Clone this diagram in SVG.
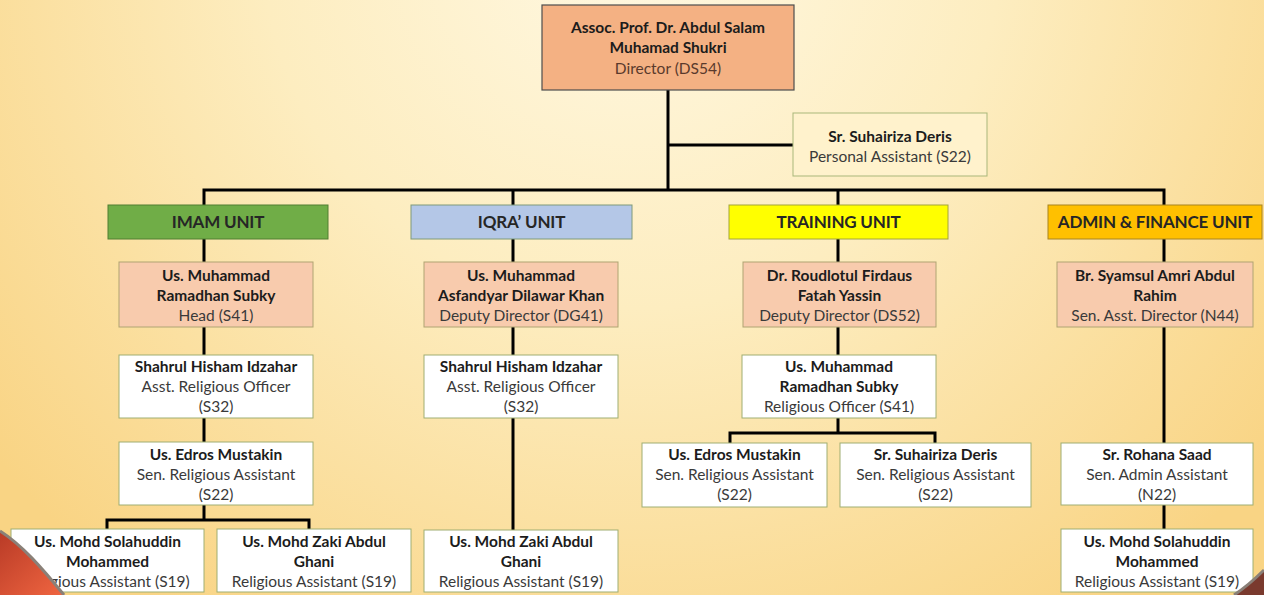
<svg xmlns="http://www.w3.org/2000/svg" width="1264" height="595" viewBox="0 0 1264 595">
<defs>
<radialGradient id="bg" cx="632" cy="-60" r="820" gradientUnits="userSpaceOnUse">
<stop offset="0" stop-color="#FFF8E2"/>
<stop offset="0.45" stop-color="#FDEDC0"/>
<stop offset="1" stop-color="#F9D484"/>
</radialGradient>
<linearGradient id="red" x1="0" y1="530" x2="60" y2="595" gradientUnits="userSpaceOnUse">
<stop offset="0" stop-color="#B83A26"/>
<stop offset="1" stop-color="#EE6440"/>
</linearGradient>
<style>
text{font-family:Lato,"Liberation Sans",sans-serif;text-anchor:middle}
.n{font-weight:bold;font-size:15.5px;fill:#1c1c1c}
.r{font-size:15.5px;fill:#3a3a3a}
.h{font-weight:bold;font-size:17px;fill:#262626;letter-spacing:-0.2px}
.w{fill:#FFFFFF;stroke:#9FAE72;stroke-width:1}
.hd{fill:#F8CBAD;stroke:#B0A472;stroke-width:1}
.conn path{fill:none;stroke:#000;stroke-width:3}
</style>
</defs>
<rect x="0" y="0" width="1264" height="595" fill="url(#bg)"/>

<g class="conn" id="connectors">
<path d="M668,90 V190"/>
<path d="M668,145 H793"/>
<path d="M204,205 V190 H1164 V205"/>
<path d="M513,190 V205"/>
<path d="M838,190 V205"/>
<path d="M204,239 V262 M204,327 V355 M204,418 V442 M204,505 V520"/>
<path d="M107,529 V520 H309 V529"/>
<path d="M513,239 V262 M513,327 V355 M513,418 V530"/>
<path d="M838,239 V262 M838,327 V355 M838,418 V433"/>
<path d="M730,443 V433 H935 V443"/>
<path d="M1164,239 V262 M1164,327 V443 M1164,505 V529"/>
</g>

<g id="director">
<rect x="542" y="5" width="252" height="85" fill="#F4B183" stroke="#4d4d4d" stroke-width="1.2"/>
<text x="668" y="33" class="n">Assoc. Prof. Dr. Abdul Salam</text>
<text x="668" y="53" class="n">Muhamad Shukri</text>
<text x="668" y="74" class="r" style="fill:#5a3a2c">Director (DS54)</text>
</g>

<g id="pa">
<rect x="793" y="113" width="194" height="63" fill="#FFF2CC" stroke="#A9B77A" stroke-width="1"/>
<text x="890" y="142" class="n">Sr. Suhairiza Deris</text>
<text x="890" y="162" class="r">Personal Assistant (S22)</text>
</g>

<g id="imam-unit">
<rect x="108" y="205" width="220" height="34" fill="#70AD47" stroke="#507E32" stroke-width="1"/>
<text x="218" y="228" class="h">IMAM UNIT</text>
</g>
<g id="iqra-unit">
<rect x="411" y="205" width="221" height="34" fill="#B4C7E7" stroke="#7F9A7A" stroke-width="1"/>
<text x="521.5" y="228" class="h">IQRA’ UNIT</text>
</g>
<g id="training-unit">
<rect x="729" y="205" width="219" height="34" fill="#FFFF00" stroke="#A4A43A" stroke-width="1"/>
<text x="838.5" y="228" class="h">TRAINING UNIT</text>
</g>
<g id="admin-unit">
<rect x="1048" y="205" width="214" height="34" fill="#FFC000" stroke="#A88420" stroke-width="1"/>
<text x="1155" y="228" class="h">ADMIN &amp; FINANCE UNIT</text>
</g>

<g id="imam-head">
<rect x="119" y="262" width="194" height="65" class="hd"/>
<text x="216" y="281" class="n">Us. Muhammad</text>
<text x="216" y="301" class="n">Ramadhan Subky</text>
<text x="216" y="321" class="r">Head (S41)</text>
</g>
<g id="iqra-head">
<rect x="424" y="262" width="194" height="65" class="hd"/>
<text x="521" y="281" class="n">Us. Muhammad</text>
<text x="521" y="301" class="n">Asfandyar Dilawar Khan</text>
<text x="521" y="321" class="r">Deputy Director (DG41)</text>
</g>
<g id="training-head">
<rect x="743" y="262" width="193" height="65" class="hd"/>
<text x="839.5" y="281" class="n">Dr. Roudlotul Firdaus</text>
<text x="839.5" y="301" class="n">Fatah Yassin</text>
<text x="839.5" y="321" class="r">Deputy Director (DS52)</text>
</g>
<g id="admin-head">
<rect x="1057" y="262" width="196" height="65" class="hd"/>
<text x="1155" y="281" class="n">Br. Syamsul Amri Abdul</text>
<text x="1155" y="301" class="n">Rahim</text>
<text x="1155" y="321" class="r">Sen. Asst. Director (N44)</text>
</g>

<g id="imam-aro">
<rect x="119" y="355" width="194" height="63" class="w"/>
<text x="216" y="372" class="n">Shahrul Hisham Idzahar</text>
<text x="216" y="392" class="r">Asst. Religious Officer</text>
<text x="216" y="412" class="r">(S32)</text>
</g>
<g id="iqra-aro">
<rect x="424" y="355" width="194" height="63" class="w"/>
<text x="521" y="372" class="n">Shahrul Hisham Idzahar</text>
<text x="521" y="392" class="r">Asst. Religious Officer</text>
<text x="521" y="412" class="r">(S32)</text>
</g>
<g id="training-ro">
<rect x="742" y="355" width="194" height="63" class="w"/>
<text x="839" y="372" class="n">Us. Muhammad</text>
<text x="839" y="392" class="n">Ramadhan Subky</text>
<text x="839" y="412" class="r">Religious Officer (S41)</text>
</g>

<g id="imam-sra">
<rect x="119" y="442" width="194" height="63" class="w"/>
<text x="216" y="460" class="n">Us. Edros Mustakin</text>
<text x="216" y="480" class="r">Sen. Religious Assistant</text>
<text x="216" y="500" class="r">(S22)</text>
</g>
<g id="training-sra1">
<rect x="642" y="443" width="185" height="64" class="w"/>
<text x="734.5" y="460" class="n">Us. Edros Mustakin</text>
<text x="734.5" y="480" class="r">Sen. Religious Assistant</text>
<text x="734.5" y="500" class="r">(S22)</text>
</g>
<g id="training-sra2">
<rect x="840" y="443" width="191" height="64" class="w"/>
<text x="935.5" y="460" class="n">Sr. Suhairiza Deris</text>
<text x="935.5" y="480" class="r">Sen. Religious Assistant</text>
<text x="935.5" y="500" class="r">(S22)</text>
</g>
<g id="admin-saa">
<rect x="1061" y="443" width="192" height="62" class="w"/>
<text x="1157" y="460" class="n">Sr. Rohana Saad</text>
<text x="1157" y="480" class="r">Sen. Admin Assistant</text>
<text x="1157" y="500" class="r">(N22)</text>
</g>

<g id="imam-ra1">
<rect x="11" y="529" width="193" height="63" class="w"/>
<text x="107.5" y="547" class="n">Us. Mohd Solahuddin</text>
<text x="107.5" y="567" class="n">Mohammed</text>
<text x="107.5" y="587" class="r">Religious Assistant (S19)</text>
</g>
<g id="imam-ra2">
<rect x="217" y="529" width="194" height="63" class="w"/>
<text x="314" y="547" class="n">Us. Mohd Zaki Abdul</text>
<text x="314" y="567" class="n">Ghani</text>
<text x="314" y="587" class="r">Religious Assistant (S19)</text>
</g>
<g id="iqra-ra">
<rect x="424" y="530" width="194" height="62" class="w"/>
<text x="521" y="547" class="n">Us. Mohd Zaki Abdul</text>
<text x="521" y="567" class="n">Ghani</text>
<text x="521" y="587" class="r">Religious Assistant (S19)</text>
</g>
<g id="admin-ra">
<rect x="1061" y="529" width="192" height="63" class="w"/>
<text x="1157" y="547" class="n">Us. Mohd Solahuddin</text>
<text x="1157" y="567" class="n">Mohammed</text>
<text x="1157" y="587" class="r">Religious Assistant (S19)</text>
</g>

<path d="M0,531 C22,545 42,568 64,595 L0,595 Z" fill="url(#red)"/>
<path d="M0,531 C22,545 42,568 64,595" fill="none" stroke="#8a8078" stroke-width="3"/>
<path d="M1264,570 C1255,579 1246,587 1234,595 L1264,595 Z" fill="#7A3A2E"/>
<path d="M1264,570 C1255,579 1246,587 1234,595" fill="none" stroke="#8a8078" stroke-width="3"/>
</svg>
